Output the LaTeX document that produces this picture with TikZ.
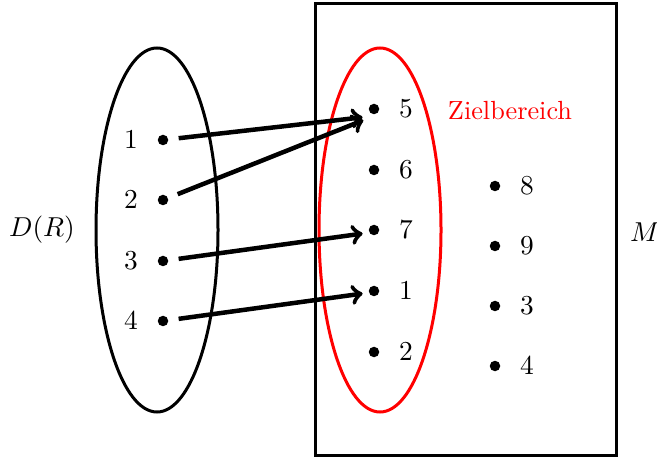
\documentclass[tikz,border=0pt]{standalone}
\usetikzlibrary{shapes.geometric}
\begin{document}
\begin{tikzpicture}[x=0.4pt,y=-0.4pt,
  dot/.style={circle,fill=black,inner sep=0pt,minimum size=4.2pt},
  lbl/.style={font=\fontsize{10.5}{12}\selectfont,inner sep=0pt},
  arr/.style={line width=1.8pt,->,shorten <=4pt,shorten >=4.6pt},
  frame/.style={line width=1.2pt}]
\useasboundingbox (0,0) rectangle (657,457);
\draw[frame] (315,4) rectangle (616,455);
\node[draw,ellipse,line width=1.2pt,minimum width=48.8pt,minimum height=145.6pt,inner sep=0pt] (dom) at (157,230) {};
\node[draw=red,ellipse,line width=1.2pt,minimum width=48.8pt,minimum height=145.6pt,inner sep=0pt] (ziel) at (380,230) {};
% left
\foreach \n/\y in {1/140,2/200,3/261,4/321}{
  \node[dot] (l\n) at (163,\y) {};
  \node[lbl] (ll\n) at (131,\y) {$\n$};
}
% middle
\foreach \k/\t/\y in {a/5/109,b/6/170,c/7/230,d/1/291,e/2/352}{
  \node[dot] (m\k) at (374,\y) {};
  \node[lbl] (ml\k) at (406,\y) {$\t$};
}
% right
\foreach \k/\t/\y in {a/8/186,b/9/246,c/3/306,d/4/366}{
  \node[dot] (r\k) at (495,\y) {};
  \node[lbl] (rl\k) at (527,\y) {$\t$};
}
\node[lbl] (dr) at (42,230) {$D(R)$};
\node[lbl] (mm) at (645,232) {$M$};
\node[lbl,text=red] (zb) at (510,111) {Zielbereich};
\draw[arr] (l1) -- ([yshift=-2.8pt]ma.center);
\draw[arr] (l2) -- ([yshift=-2.8pt]ma.center);
\draw[arr] (l3) -- ([yshift=-0.8pt]mc.center);
\draw[arr] (l4) -- ([yshift=-0.4pt]md.center);
\end{tikzpicture}
\end{document}
